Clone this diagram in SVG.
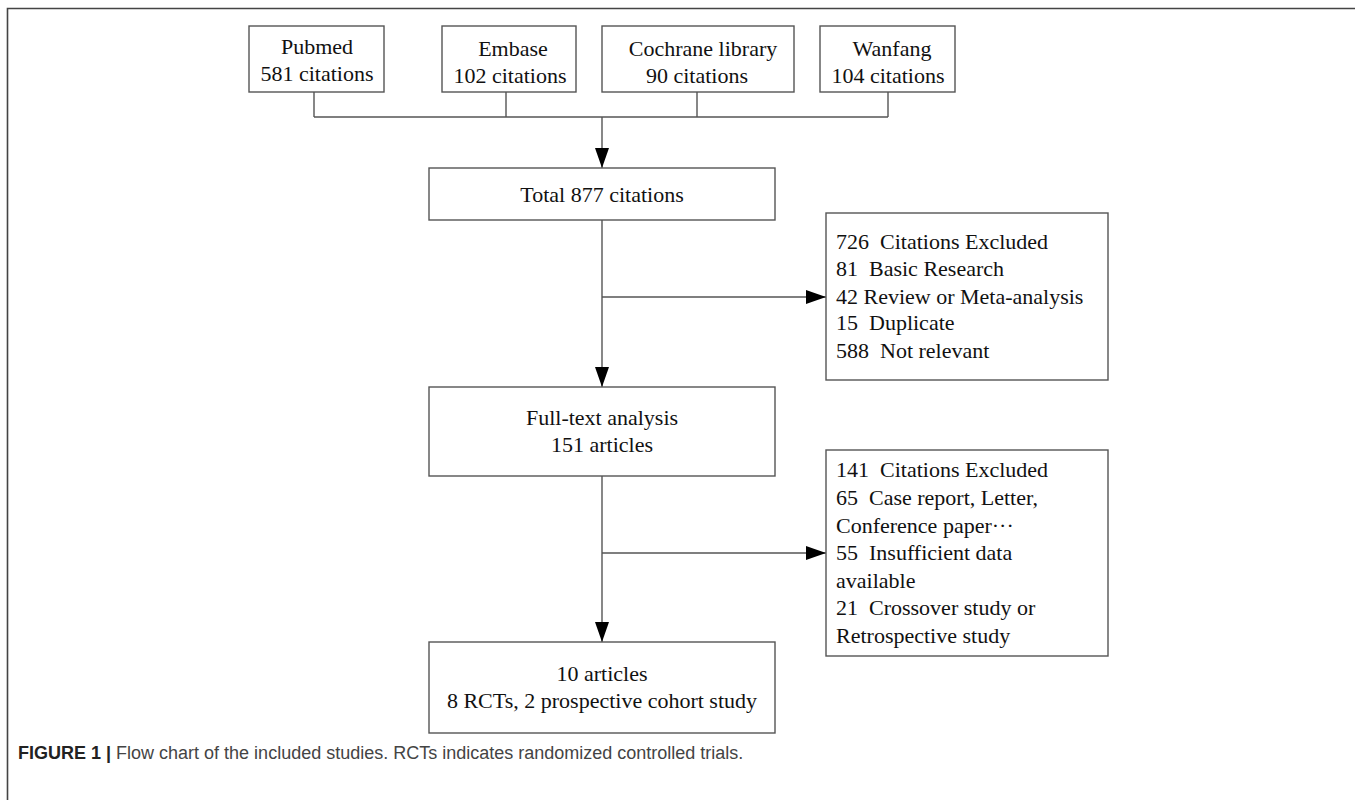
<svg xmlns="http://www.w3.org/2000/svg" width="1355" height="800" viewBox="0 0 1355 800">
<style>
.box{fill:#fff;stroke:#555;stroke-width:1.4}
.t{font-family:"Liberation Serif","Times New Roman",serif;font-size:22px;fill:#111;white-space:pre}
.c{text-anchor:middle}
.ln{fill:none;stroke:#555;stroke-width:1.4}
.frame{fill:none;stroke:#444;stroke-width:1.6}
.cap{font-family:"Liberation Sans",Arial,sans-serif;font-size:18px;fill:#444}
</style>
<defs>
<marker id="ah" viewBox="0 0 20 14" refX="20" refY="7" markerWidth="20" markerHeight="14" markerUnits="userSpaceOnUse" orient="auto">
<path d="M0,0 L20,7 L0,14 Z" fill="#000"/>
</marker>
</defs>
<rect width="1355" height="800" fill="#fff"/>
<path class="frame" d="M7.5,800 V8.5 H1355"/>

<g id="connectors">
<path class="ln" d="M314,92 V117 M506,92 V117 M697,92 V117 M888,92 V117 M314,117 H888"/>
<path class="ln" d="M602,117 V168" marker-end="url(#ah)"/>
<path class="ln" d="M602,220 V387" marker-end="url(#ah)"/>
<path class="ln" d="M602,297 H826" marker-end="url(#ah)"/>
<path class="ln" d="M602,476 V642" marker-end="url(#ah)"/>
<path class="ln" d="M602,553 H826" marker-end="url(#ah)"/>
</g>

<g id="pubmed">
<rect class="box" x="249" y="26" width="135" height="66"/>
<text class="t c" x="317" y="54">Pubmed</text>
<text class="t c" x="317" y="81">581 citations</text>
</g>
<g id="embase">
<rect class="box" x="442" y="26" width="134" height="66"/>
<text class="t c" x="513" y="56">Embase</text>
<text class="t c" x="510" y="83">102 citations</text>
</g>
<g id="cochrane">
<rect class="box" x="602" y="26" width="192" height="66"/>
<text class="t c" x="703" y="56">Cochrane library</text>
<text class="t c" x="697" y="83">90 citations</text>
</g>
<g id="wanfang">
<rect class="box" x="820" y="26" width="135" height="66"/>
<text class="t c" x="892" y="56">Wanfang</text>
<text class="t c" x="888" y="83">104 citations</text>
</g>

<g id="total">
<rect class="box" x="429" y="168" width="346" height="52"/>
<text class="t c" x="602" y="202">Total 877 citations</text>
</g>

<g id="excluded1">
<rect class="box" x="826" y="213" width="282" height="167"/>
<text class="t" x="836" y="249">726  Citations Excluded</text>
<text class="t" x="836" y="276">81  Basic Research</text>
<text class="t" x="836" y="304">42 Review or Meta-analysis</text>
<text class="t" x="836" y="330">15  Duplicate</text>
<text class="t" x="836" y="358">588  Not relevant</text>
</g>

<g id="fulltext">
<rect class="box" x="429" y="387" width="346" height="89"/>
<text class="t c" x="602" y="425">Full-text analysis</text>
<text class="t c" x="602" y="452">151 articles</text>
</g>

<g id="excluded2">
<rect class="box" x="826" y="450" width="282" height="206"/>
<text class="t" x="836" y="477">141  Citations Excluded</text>
<text class="t" x="836" y="505">65  Case report, Letter,</text>
<text class="t" x="836" y="533">Conference paper···</text>
<text class="t" x="836" y="560">55  Insufficient data</text>
<text class="t" x="836" y="588">available</text>
<text class="t" x="836" y="615">21  Crossover study or</text>
<text class="t" x="836" y="643">Retrospective study</text>
</g>

<g id="final">
<rect class="box" x="429" y="642" width="346" height="91"/>
<text class="t c" x="602" y="681">10 articles</text>
<text class="t c" x="602" y="708">8 RCTs, 2 prospective cohort study</text>
</g>

<text class="cap" x="18" y="759"><tspan font-weight="bold" fill="#222">FIGURE 1 |</tspan> Flow chart of the included studies. RCTs indicates randomized controlled trials.</text>
</svg>
